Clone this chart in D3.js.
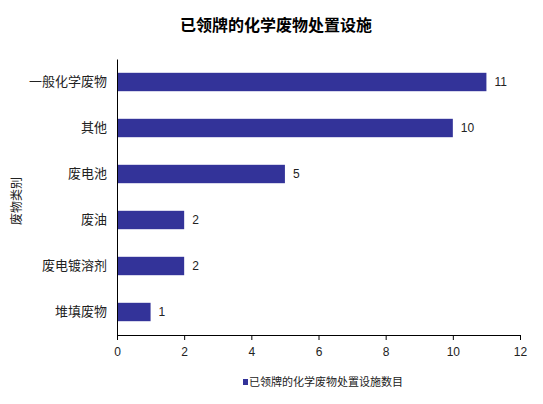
<!DOCTYPE html>
<html><head><meta charset="utf-8">
<script src="https://cdn.jsdelivr.net/npm/d3@7"></script>
<style>body{margin:0;background:#fff}svg{display:block}text{font-family:"Liberation Sans","Noto Sans CJK SC",Arial,sans-serif}</style>
</head><body><svg id="c" width="543" height="404"></svg>
<script>
const categories = ["一般化学废物","其他","废电池","废油","废电镀溶剂","堆填废物"];
const values = [11,10,5,2,2,1];
const xTicks = [0,2,4,6,8,10,12];
const title = "已领牌的化学废物处置设施";
const yTitle = "废物类别";
const seriesName = "已领牌的化学废物处置设施数目";

const svg = d3.select("#c");
const m = {left:117, right:23, top:59, bottom:69};
const W = 543, H = 404;
const x = d3.scaleLinear().domain([0,12]).range([m.left, W-m.right]);
const y = d3.scaleBand().domain(categories).range([m.top, H-m.bottom]).paddingInner(0.6).paddingOuter(0.3);
const color = "#333399";

svg.append("text").attr("x",276).attr("y",31).attr("text-anchor","middle")
  .attr("font-size",16).attr("font-weight","bold").text(title);

svg.selectAll("rect.bar").data(values).enter().append("rect").attr("class","bar")
  .attr("x",x(0)).attr("y",(d,i)=>y(categories[i])).attr("width",d=>x(d)-x(0))
  .attr("height",y.bandwidth()).attr("fill",color);

svg.selectAll("text.val").data(values).enter().append("text").attr("class","val")
  .attr("x",d=>x(d)+8).attr("y",(d,i)=>y(categories[i])+y.bandwidth()/2).attr("dy","0.35em")
  .attr("font-size",12).attr("fill","#222").text(d=>d);

const xa = svg.append("g").attr("transform",`translate(0,${H-m.bottom})`)
  .call(d3.axisBottom(x).tickValues(xTicks).tickSize(5).tickSizeOuter(0));
xa.select(".domain").attr("stroke","#000");
xa.selectAll("text").attr("font-size",12).attr("fill","#222").attr("dy","1.1em");

const ya = svg.append("g").attr("transform",`translate(${m.left},0)`)
  .call(d3.axisLeft(y).tickSize(0).tickSizeOuter(0).tickPadding(10));
ya.select(".domain").attr("stroke","#000");
ya.selectAll("text").attr("font-size",13).attr("fill","#222");

svg.append("text").attr("transform","translate(21,201) rotate(-90)").attr("text-anchor","middle")
  .attr("font-size",12).attr("fill","#222").text(yTitle);

const lg = svg.append("g").attr("transform","translate(243,382)");
lg.append("rect").attr("x",0).attr("y",-3).attr("width",5).attr("height",6).attr("fill",color);
lg.append("text").attr("x",6).attr("y",0).attr("dy","0.35em").attr("font-size",11).attr("fill","#222").text(seriesName);
</script></body></html>
